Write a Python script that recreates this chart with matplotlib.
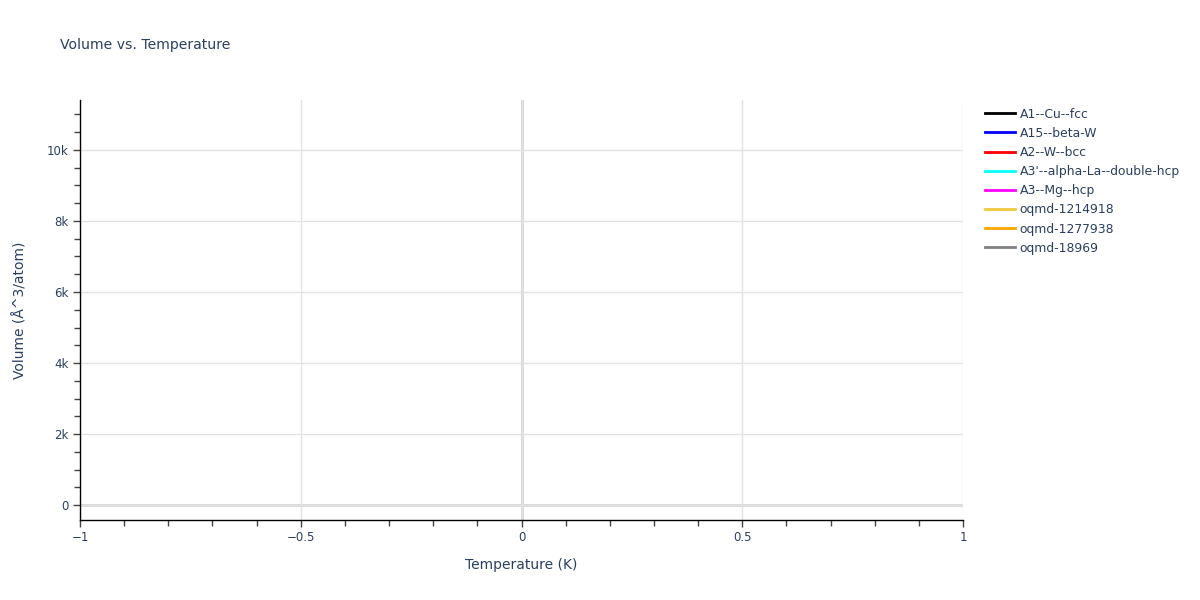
import matplotlib
matplotlib.use("Agg")
import matplotlib.pyplot as plt
from matplotlib.ticker import FuncFormatter, MultipleLocator

plt.rcParams['font.family'] = ['DejaVu Sans']

# series names and colours (no data points are shown in the chart)
names = ["A1--Cu--fcc", "A15--beta-W", "A2--W--bcc", "A3'--alpha-La--double-hcp",
         "A3--Mg--hcp", "oqmd-1214918", "oqmd-1277938", "oqmd-18969"]
colors = ["black", "blue", "red", "cyan", "magenta", "#f0c83c", "orange", "grey"]
temps = [[] for _ in names]
volumes = [[] for _ in names]

x_ticks = [-1, -0.5, 0, 0.5, 1]
y_ticks = [0, 2000, 4000, 6000, 8000, 10000]

txt = '#2a3f5f'

fig = plt.figure(figsize=(12, 6), dpi=100)
ax = fig.add_axes([80/1200, 1 - 520/600, 883/1200, 420/600])

for t, v, n, c in zip(temps, volumes, names, colors):
    ax.plot(t, v, color=c, lw=1.5, label=n)

ax.set_xlim(-1, 1)
ax.set_ylim(-422, 11408)
ax.set_xticks(x_ticks)
ax.set_yticks(y_ticks)
ax.xaxis.set_minor_locator(MultipleLocator(0.1))
ax.yaxis.set_minor_locator(MultipleLocator(500))
ax.xaxis.set_major_formatter(FuncFormatter(lambda v, p: '\u2212' + f'{abs(v):g}' if v < 0 else f'{v:g}'))
ax.yaxis.set_major_formatter(FuncFormatter(lambda v, p: '0' if v == 0 else f'{v/1000:g}k'))

ax.grid(True, which='major', color='#e2e2e2', lw=1)
ax.axhline(0, color='#d4d4d4', lw=2, zorder=1)
ax.axvline(0, color='#d4d4d4', lw=2, zorder=1)

for s in ['top', 'right']:
    ax.spines[s].set_visible(False)
for s in ['left', 'bottom']:
    ax.spines[s].set_color('black')
    ax.spines[s].set_linewidth(1)

ax.tick_params(which='major', direction='out', length=5, width=1, color='#444444',
               labelsize=8.5, labelcolor=txt, pad=3)
ax.tick_params(which='minor', direction='out', length=4, width=1, color='#444444')

ax.set_xlabel('Temperature (K)', fontsize=10, color=txt, labelpad=10)
ax.set_ylabel('Volume (Å^3/atom)', fontsize=10, color=txt, labelpad=14)
fig.text(60/1200, 1 - 45/600, 'Volume vs. Temperature', fontsize=10.1, color=txt, va='center')

leg = fig.legend(loc='upper left', bbox_to_anchor=(985/1200, 1 - 107.5/600), frameon=False,
                 fontsize=8.9, labelcolor=txt, handlelength=2.4, handletextpad=0.42,
                 labelspacing=0.5, borderaxespad=0, borderpad=0)
for line in leg.get_lines():
    line.set_linewidth(2)

fig.savefig('out.png', dpi=100)
